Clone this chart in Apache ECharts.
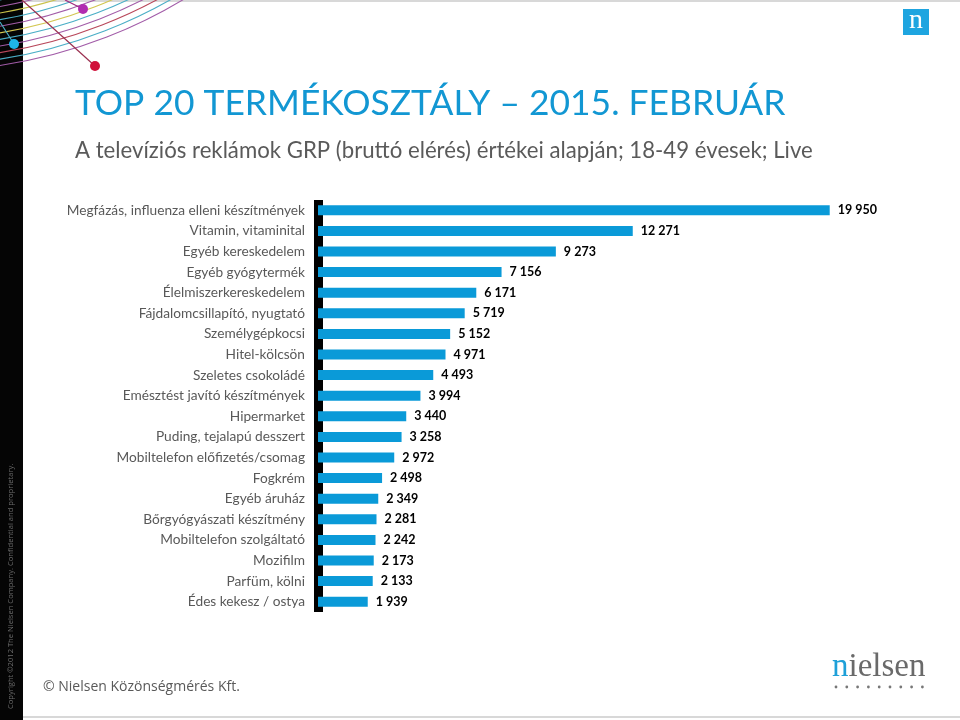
<!DOCTYPE html>
<html>
<head>
<meta charset="utf-8">
<script src="https://cdn.jsdelivr.net/npm/echarts@6/dist/echarts.min.js"></script>
<style>html,body{margin:0;padding:0;background:#fff;}#c{width:960px;height:720px;}</style>
</head>
<body>
<div id="c"></div>
<script>
const categories = [
  'Megfázás, influenza elleni készítmények',
  'Vitamin, vitaminital',
  'Egyéb kereskedelem',
  'Egyéb gyógytermék',
  'Élelmiszerkereskedelem',
  'Fájdalomcsillapító, nyugtató',
  'Személygépkocsi',
  'Hitel-kölcsön',
  'Szeletes csokoládé',
  'Emésztést javító készítmények',
  'Hipermarket',
  'Puding, tejalapú desszert',
  'Mobiltelefon előfizetés/csomag',
  'Fogkrém',
  'Egyéb áruház',
  'Bőrgyógyászati készítmény',
  'Mobiltelefon szolgáltató',
  'Mozifilm',
  'Parfüm, kölni',
  'Édes kekesz / ostya'
];
const grpValues = [19950, 12271, 9273, 7156, 6171, 5719, 5152, 4971, 4493, 3994, 3440, 3258, 2972, 2498, 2349, 2281, 2242, 2173, 2133, 1939];
const titleText = 'TOP 20 TERMÉKOSZTÁLY – 2015. FEBRUÁR';
const subtitleText = 'A televíziós reklámok GRP (bruttó elérés) értékei alapján; 18-49 évesek; Live';
const footerText = '© Nielsen Közönségmérés Kft.';
const copyrightText = 'Copyright ©2012 The Nielsen Company. Confidential and proprietary.';

function fmt(v) { return String(v).replace(/\B(?=(\d{3})+(?!\d))/g, ' '); }

const chart = echarts.init(document.getElementById('c'), null, {renderer: 'canvas'});

// decorative arcs
const arcColors = ['#a25ca8', '#4aaec6', '#b8475a', '#a25ca8', '#4aaec6', '#d2c650', '#a25ca8', '#4aaec6', '#c9c24a', '#a25ca8', '#4aaec6'];
const arcs = [];
for (let i = 0; i < arcColors.length; i++) {
  arcs.push({
    type: 'arc', silent: true, z: 2,
    shape: {cx: -74, cy: -428, r: 499 - i * 6.5, startAngle: 0.7, endAngle: 1.7, clockwise: true},
    style: {fill: null, stroke: arcColors[i], lineWidth: 1.1}
  });
}

const graphics = [
  {type: 'rect', z: 1, shape: {x: 0, y: 0, width: 23, height: 720}, style: {fill: '#050505'}},
  {type: 'line', z: 1, shape: {x1: 23, y1: 1, x2: 960, y2: 1}, style: {stroke: '#d8d8d8', lineWidth: 2}},
  {type: 'line', z: 1, shape: {x1: 23, y1: 717, x2: 960, y2: 717}, style: {stroke: '#d8d8d8', lineWidth: 2}},
  ...arcs,
  {type: 'line', z: 3, shape: {x1: 14, y1: 44, x2: 0, y2: 22}, style: {stroke: '#4aaec6', lineWidth: 1.2}},
  {type: 'line', z: 3, shape: {x1: 83, y1: 9, x2: 65, y2: 0}, style: {stroke: '#a0287f', lineWidth: 1.2}},
  {type: 'line', z: 3, shape: {x1: 95, y1: 66, x2: 22, y2: 0}, style: {stroke: '#9b3050', lineWidth: 1.2}},
  {type: 'circle', z: 4, shape: {cx: 14, cy: 44, r: 5}, style: {fill: '#1eb4ea'}},
  {type: 'circle', z: 4, shape: {cx: 83, cy: 9, r: 5}, style: {fill: '#b12cb0'}},
  {type: 'circle', z: 4, shape: {cx: 95, cy: 66, r: 5}, style: {fill: '#d0103a'}},
  {type: 'text', z: 5, rotation: Math.PI / 2, x: 11, y: 709,
    style: {text: copyrightText, fill: '#6b6b6b', font: '7.6px "Open Sans", sans-serif', verticalAlign: 'middle', align: 'left'}},
  // top right logo
  {type: 'rect', z: 5, shape: {x: 903, y: 9, width: 26, height: 26}, style: {fill: '#1ea5e0'}},
  {type: 'text', z: 6, style: {x: 916, y: 21, text: 'n', fill: '#ffffff', font: '28px "Liberation Serif", serif', align: 'center', verticalAlign: 'middle'}},
  // titles
  {type: 'text', z: 5, style: {x: 75, y: 104, text: titleText, fill: '#1297d3', font: '35.4px Lato, sans-serif', verticalAlign: 'middle'}},
  {type: 'text', z: 5, style: {x: 75, y: 151, text: subtitleText, fill: '#5a5a5a', font: '22.2px Lato, sans-serif', verticalAlign: 'middle'}},
  // footer
  {type: 'text', z: 5, style: {x: 43, y: 687, text: footerText, fill: '#595959', font: '14px "Open Sans", sans-serif', verticalAlign: 'middle'}},
  // nielsen logo
  {type: 'text', z: 5, style: {x: 832, y: 667, text: 'n', fill: '#1ea0d8', font: '33px "Liberation Serif", serif', verticalAlign: 'middle'}},
  {type: 'text', z: 5, style: {x: 848.5, y: 667, text: 'ielsen', fill: '#6a6a6a', font: '33px "Liberation Serif", serif', verticalAlign: 'middle'}}
];
for (let i = 0; i < 9; i++) {
  graphics.push({type: 'circle', z: 5, shape: {cx: 836 + i * 10.8, cy: 687, r: 1.4}, style: {fill: '#777'}});
}

chart.setOption({
  animation: false,
  backgroundColor: '#ffffff',
  graphic: graphics,
  grid: {left: 318, right: 129, top: 200, bottom: 108, containLabel: false},
  xAxis: {
    type: 'value', min: 0, max: 20000, show: false
  },
  yAxis: {
    type: 'category', data: categories, inverse: true,
    axisLine: {show: true, lineStyle: {color: '#000', width: 9, cap: 'butt'}},
    axisTick: {show: false},
    axisLabel: {color: '#595959', fontSize: 13.7, fontFamily: 'Lato, sans-serif', margin: 13}
  },
  series: [{
    type: 'bar', data: grpValues, barWidth: 10,
    itemStyle: {color: '#0a9ad8'},
    z: 1,
    label: {
      show: true, position: 'right', distance: 8,
      color: '#000', fontWeight: 'bold', fontSize: 12.5, fontFamily: 'Lato, sans-serif',
      formatter: p => fmt(p.value)
    }
  }]
});
</script>
</body>
</html>
